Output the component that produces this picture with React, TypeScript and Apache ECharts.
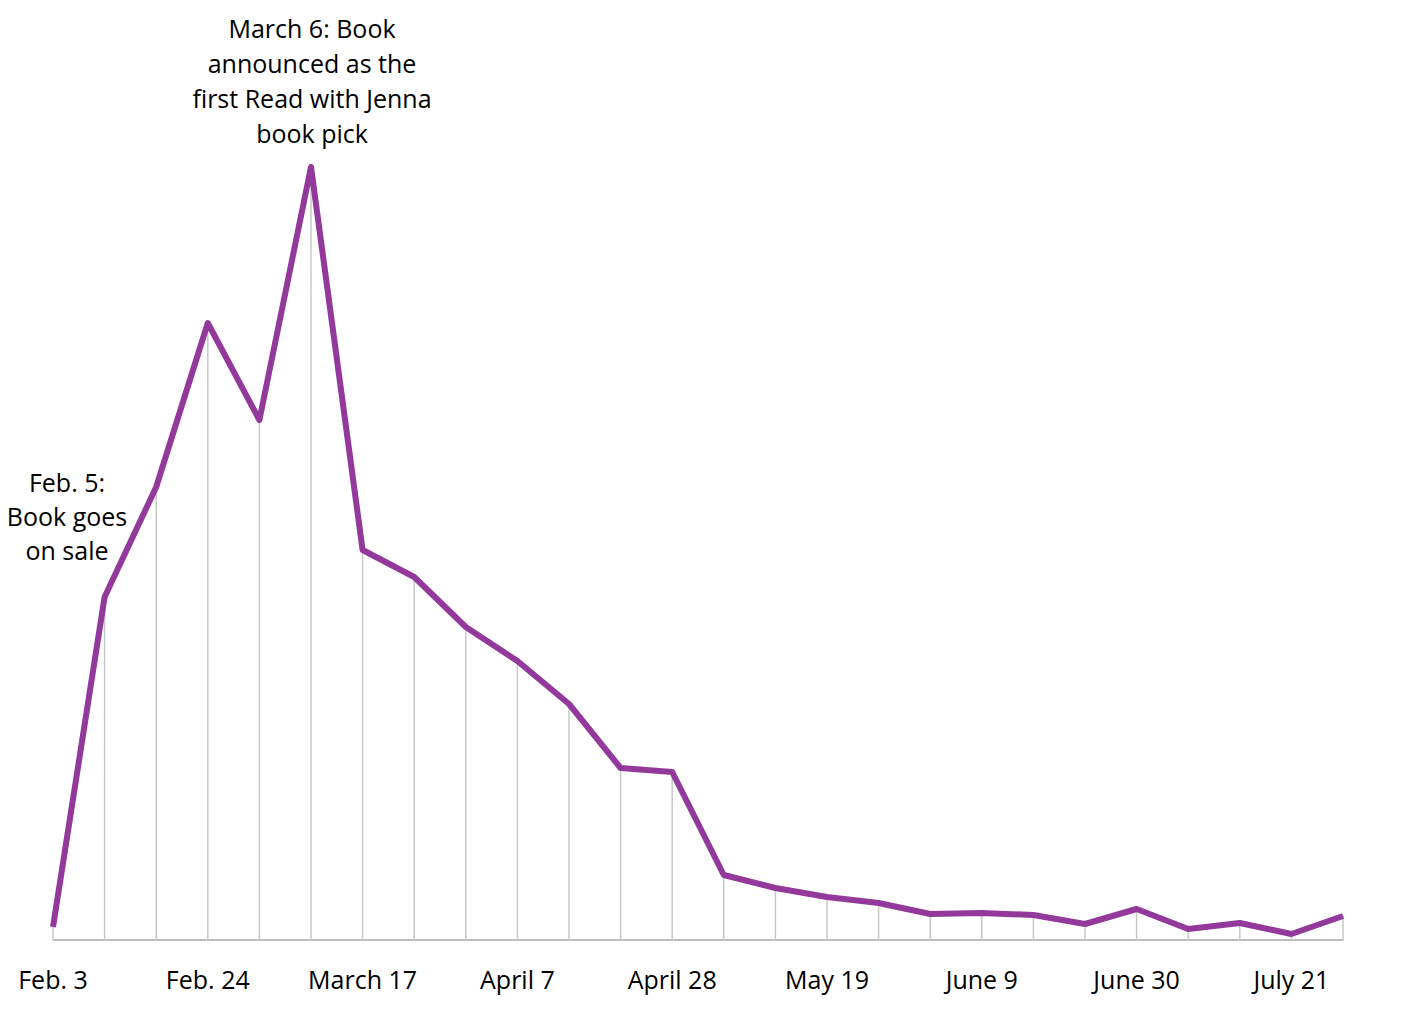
import * as echarts from "echarts";
import { useEffect, useRef } from "react";

// Weekly dates, Feb. 3 through July 28
const weeks = [
    "Feb. 3", "Feb. 10", "Feb. 17", "Feb. 24", "March 3", "March 10",
    "March 17", "March 24", "March 31", "April 7", "April 14", "April 21",
    "April 28", "May 5", "May 12", "May 19", "May 26", "June 2",
    "June 9", "June 16", "June 23", "June 30", "July 7", "July 14",
    "July 21", "July 28"
];

// Relative weekly sales (no scale shown in the source)
const sales = [
    13, 343, 453, 617, 520, 773, 390, 363, 313, 279, 236, 172,
    168, 65, 52, 43, 37, 26, 27, 25, 16, 31, 11, 17, 6, 24
];

const saleNote = "Feb. 5:\nBook goes\non sale";
const pickNote = "March 6: Book\nannounced as the\nfirst Read with Jenna\nbook pick";

const FONT = "'Open Sans', Lato, sans-serif";

export default function App() {
    const chartRef = useRef<HTMLDivElement>(null);

    useEffect(() => {
        if (!chartRef.current) return;
        const chart = echarts.init(chartRef.current, undefined, { renderer: "svg" });

        const option: echarts.EChartsOption = {
            animation: false,
            grid: { left: 45, right: 73, top: 132, bottom: 63 },
            xAxis: {
                type: "category",
                data: weeks,
                boundaryGap: false,
                axisLine: { lineStyle: { color: "#bfbfbf", width: 2 } },
                axisTick: { show: false },
                axisLabel: {
                    interval: 2,
                    color: "#000",
                    fontSize: 25,
                    fontFamily: FONT,
                    margin: 26
                },
                splitLine: { show: false }
            },
            yAxis: {
                type: "value",
                min: 0,
                max: 800,
                show: false
            },
            graphic: [
                {
                    type: "text",
                    style: {
                        text: saleNote,
                        x: 67 - 8,
                        y: 465 - 8,
                        align: "center",
                        fontSize: 25,
                        lineHeight: 34,
                        fontFamily: FONT,
                        fill: "#000"
                    }
                },
                {
                    type: "text",
                    style: {
                        text: pickNote,
                        x: 312 - 8,
                        y: 10 - 8,
                        align: "center",
                        fontSize: 25,
                        lineHeight: 35,
                        fontFamily: FONT,
                        fill: "#000"
                    }
                }
            ],
            series: [
                {
                    type: "bar",
                    data: sales,
                    barWidth: 1.5,
                    itemStyle: { color: "#c8c8c8" },
                    silent: true
                },
                {
                    type: "line",
                    data: sales,
                    symbol: "none",
                    lineStyle: { color: "#93399b", width: 6, join: "round" } as any
                }
            ]
        };

        chart.setOption(option);
        return () => chart.dispose();
    }, []);

    return <div ref={chartRef} style={{ width: 1408, height: 995 }} />;
}
